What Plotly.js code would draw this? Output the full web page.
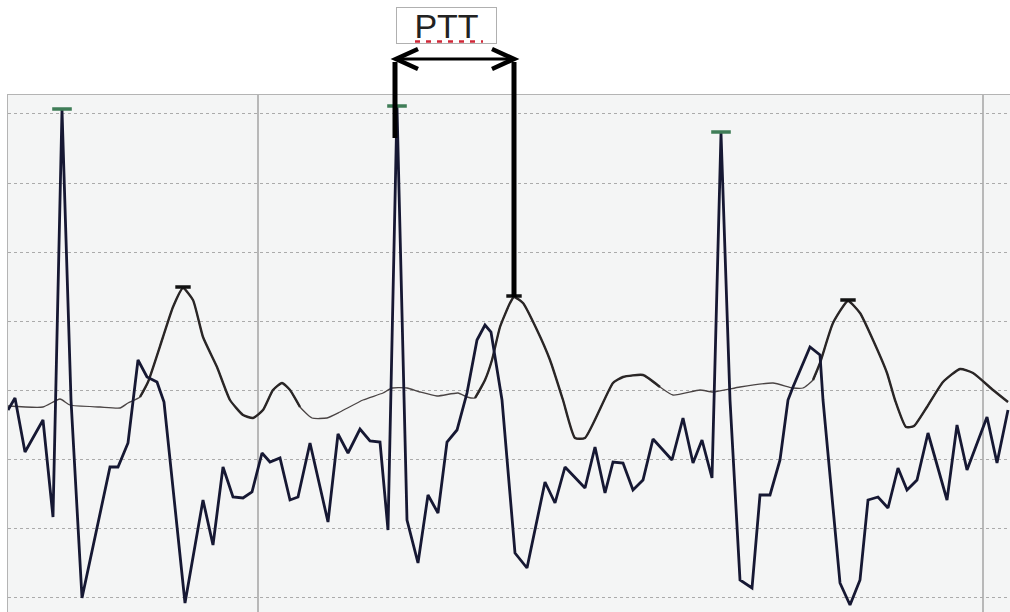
<!DOCTYPE html>
<html><head><meta charset="utf-8">
<script src="https://cdn.plot.ly/plotly-3.0.1.min.js"></script>
<style>html,body{margin:0;padding:0;background:#fff;}#chart{width:1010px;height:612px;}</style>
</head><body><div id="chart"></div>
<script>
// ECG signal (sample index, amplitude)
const ecgX = [8,15,25,43,53,62,71,82,110,118,128,133,138,147,157,164,185,203,213,223,233,243,252,262,270,280,290,298,310,328,338,348,360,370,380,388,397,407,418,428,438,447,457,467,477,485,491,502,515,527,545,555,565,585,595,605,613,623,633,643,653,672,683,693,702,712,721,730,740,752,760,770,780,788,793,810,820,823,840,850,860,868,878,888,898,907,917,928,947,957,967,987,997,1008];
const ecgY = [202,214,160,192,95,502,212,14,145,145,169,212,252,235,230,210,9,112,67,145,115,114,120,159,150,154,112,115,169,90,178,159,183,171,170,82,505,92,49,117,99,170,182,219,272,287,280,212,59,44,130,109,145,124,165,119,150,149,122,132,173,152,194,149,172,134,479,212,32,24,117,117,152,212,225,265,257,212,29,7,32,112,115,104,144,122,132,179,112,187,142,195,149,202];
// PPG signal (sample index, amplitude)
const ppgX = [8,43,60,70,100,120,128,140,148,163,173,183,193,203,217,230,243,253,263,273,282,290,300,312,327,340,363,383,392,407,420,437,458,467,475,485,492,500,510,514,523,537,550,563,575,585,613,623,643,660,673,700,713,740,773,793,803,813,820,833,848,860,873,887,895,906,914,927,943,960,973,993,1008];
const ppgY = [206,205,213,207,205,204,209,215,230,275,305,324,312,275,245,212,197,194,202,222,229,222,205,194,194,200,212,219,224,224,220,216,219,215,214,232,252,285,309,315,309,282,252,212,174,174,229,235,237,225,217,222,220,225,229,224,224,232,249,289,311,299,272,239,212,185,186,205,230,243,239,222,210];
// chart frame
const xRange = [8, 1010];
const yRange = [0, 517];
const xGrid = [258, 983];
const yGrid = [15, 84, 153, 222, 291, 360, 429, 499];
const pttLabel = 'PTT';
// pulse windows drawn with a heavier stroke
const pulseWindows = [[133, 300], [470, 660], [808, 1010]];

// R peaks: local maxima above threshold
const rIdx = [];
for (let i = 1; i < ecgY.length - 1; i++) {
  if (ecgY[i] > 400 && ecgY[i] >= ecgY[i-1] && ecgY[i] >= ecgY[i+1]) rIdx.push(i);
}
const rX = rIdx.map(i => ecgX[i]);
const rY = rIdx.map(i => ecgY[i]);
// PPG peaks: max of ppg within 200 samples after each R peak
const pX = [], pY = [];
rX.forEach(rx => {
  let best = -1;
  for (let j = 0; j < ppgX.length; j++) {
    if (ppgX[j] > rx && ppgX[j] < rx + 200 && (best < 0 || ppgY[j] > ppgY[best])) best = j;
  }
  pX.push(ppgX[best]); pY.push(ppgY[best]);
});
// heavy overlay segments
const thickX = [], thickY = [];
pulseWindows.forEach(w => {
  for (let j = 0; j < ppgX.length; j++) {
    if (ppgX[j] >= w[0] && ppgX[j] <= w[1]) { thickX.push(ppgX[j]); thickY.push(ppgY[j]); }
  }
  thickX.push(null); thickY.push(null);
});

const traces = [
  {x: ppgX, y: ppgY, mode: 'lines', line: {color: '#4a4444', width: 1.3, shape: 'spline', smoothing: 0.5}, hoverinfo: 'skip'},
  {x: thickX, y: thickY, mode: 'lines', connectgaps: false, line: {color: '#2a2626', width: 2.4, shape: 'spline', smoothing: 0.5}, hoverinfo: 'skip'},
  {x: ecgX, y: ecgY, mode: 'lines', line: {color: '#161833', width: 2.8}, hoverinfo: 'skip'},
  {x: rX, y: rY.map(v => v + 1), mode: 'markers', marker: {symbol: 'line-ew', size: 14, line: {width: 3.5, color: '#3f7d57'}}, hoverinfo: 'skip'},
  {x: pX, y: pY.map(v => v + 1), mode: 'markers', marker: {symbol: 'line-ew', size: 11, line: {width: 3.5, color: '#111'}}, hoverinfo: 'skip'}
];

// paper-coordinate helpers
const W = 1010, H = 612, L = 8, T = 95;
const px2paper = x => (x - xRange[0]) / (xRange[1] - xRange[0]);
const py2paper = v => (v - yRange[0]) / (yRange[1] - yRange[0]);
const pix = p => p / (W - L);   // pixel width -> paper
const piy = p => p / (H - T);   // pixel height -> paper

const r2 = rX[1], ppg2x = pX[1], ppg2y = pY[1];
const topV = 550, leftBottom = 474, arrowY = 553;
const xa = px2paper(r2 - 1), xb = px2paper(ppg2x);
const ya = py2paper(arrowY);
const dx = pix(22), dy = piy(10);

const annotations = [
  {xref: 'paper', yref: 'paper', x: px2paper(r2 - 1), y: py2paper(612 - 25.5), xanchor: 'left', yanchor: 'middle',
   text: pttLabel, showarrow: false, width: 99, height: 35, borderpad: 0, bordercolor: '#b0b0b0', borderwidth: 1, bgcolor: 'rgba(255,255,255,0)',
   font: {family: 'Liberation Sans, Arial, sans-serif', size: 34, color: '#222'}}
];

const shapes = [
  {type: 'line', xref: 'paper', yref: 'paper', x0: px2paper(r2 - 2), x1: px2paper(r2 - 2), y0: py2paper(leftBottom), y1: py2paper(topV), line: {color: '#000', width: 5}},
  {type: 'line', xref: 'paper', yref: 'paper', x0: xb, x1: xb, y0: py2paper(ppg2y), y1: py2paper(topV), line: {color: '#000', width: 5}},
  {type: 'line', xref: 'paper', yref: 'paper', x0: xa + pix(4), x1: xb - pix(4), y0: ya, y1: ya, line: {color: '#000', width: 3}},
  {type: 'path', xref: 'paper', yref: 'paper', path: `M ${xa+dx},${ya+dy} L ${xa},${ya} L ${xa+dx},${ya-dy}`, line: {color: '#000', width: 4.5}},
  {type: 'path', xref: 'paper', yref: 'paper', path: `M ${xb-dx},${ya+dy} L ${xb},${ya} L ${xb-dx},${ya-dy}`, line: {color: '#000', width: 4.5}},
  {type: 'line', xref: 'paper', yref: 'paper', x0: px2paper(r2 + 18), x1: px2paper(r2 + 86), y0: py2paper(612 - 41.5), y1: py2paper(612 - 41.5), line: {color: '#d02838', width: 2.5, dash: '5px,6px'}}
];

const layout = {
  width: W, height: H,
  margin: {l: L, r: 0, t: T, b: 0},
  paper_bgcolor: '#ffffff', plot_bgcolor: '#f4f5f5',
  showlegend: false,
  xaxis: {range: xRange, side: 'top', showline: true, linecolor: '#b4b4b4', linewidth: 1.5, tickvals: xGrid, showticklabels: false, ticks: '',
          showgrid: true, gridcolor: '#b8b8b8', gridwidth: 1.6, zeroline: false, fixedrange: true},
  yaxis: {range: yRange, showline: true, linecolor: '#b4b4b4', linewidth: 1.5, tickvals: yGrid, showticklabels: false, ticks: '',
          showgrid: true, gridcolor: '#ababab', gridwidth: 1, griddash: 'dot', zeroline: false, fixedrange: true},
  shapes: shapes, annotations: annotations
};

Plotly.newPlot('chart', traces, layout, {displayModeBar: false, staticPlot: true});
</script>
</body></html>
